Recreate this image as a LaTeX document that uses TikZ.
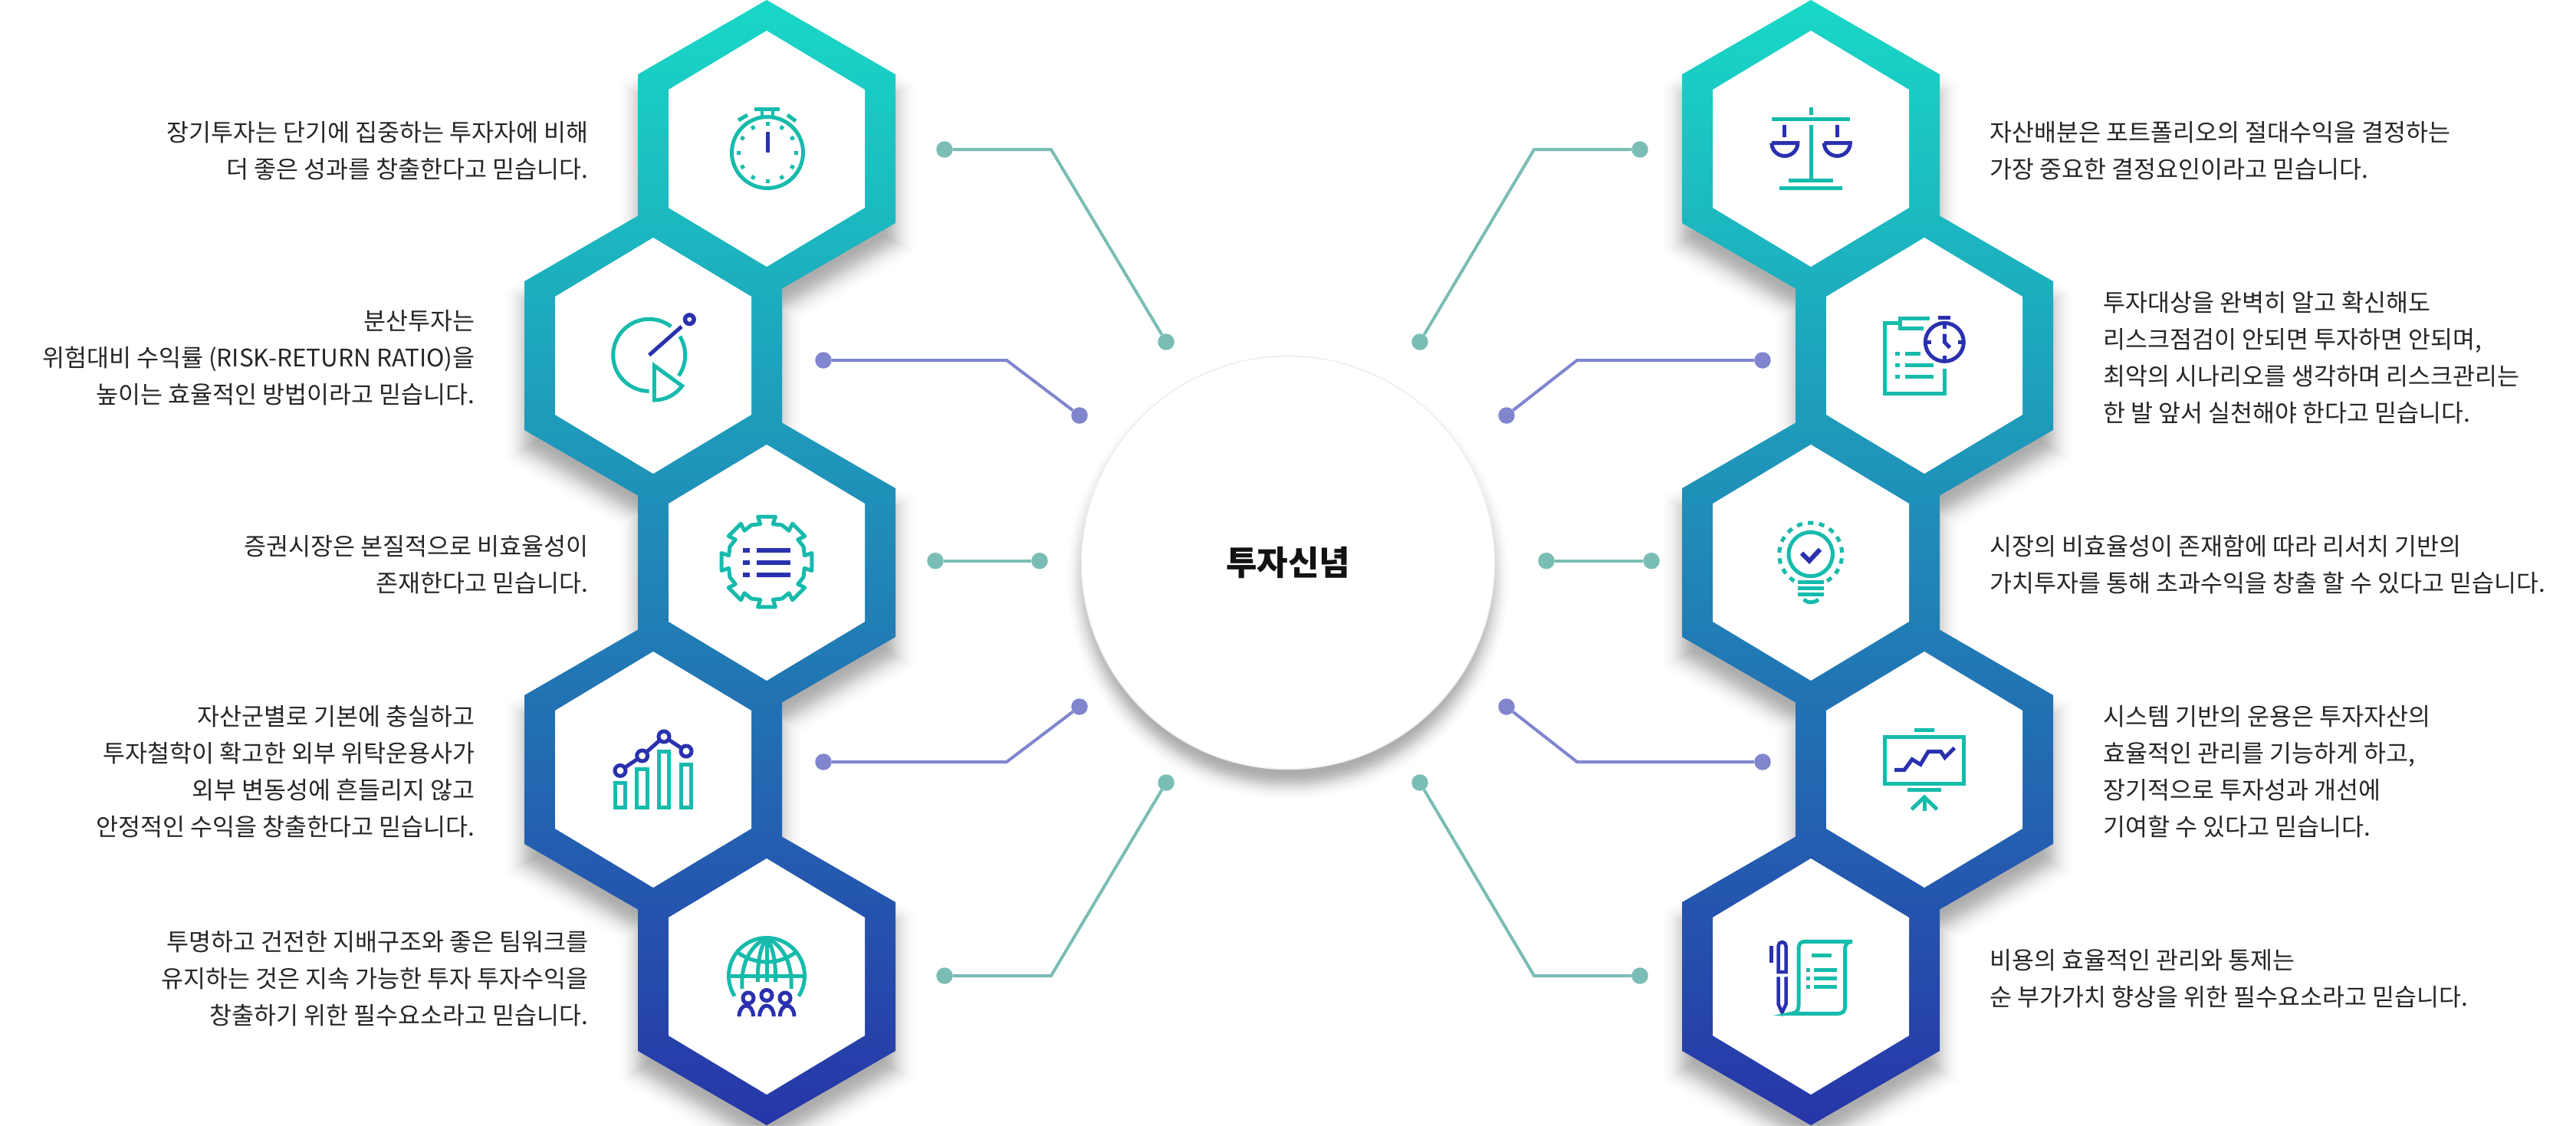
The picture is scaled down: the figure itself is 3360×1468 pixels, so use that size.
\documentclass[tikz,border=0pt]{standalone}
\usepackage{fontspec}
\setmainfont{Noto Sans CJK KR}
\definecolor{hextop}{HTML}{19D8C6}
\definecolor{hexbot}{HTML}{2735A8}
\definecolor{icongreen}{HTML}{16BBAC}
\definecolor{iconblue}{HTML}{2A31AE}
\definecolor{linegreen}{HTML}{7ABDB5}
\definecolor{lineblue}{HTML}{8085CE}
\definecolor{inktext}{HTML}{262626}
\newcommand{\hexo}[2]{(#1,#2-194)--(#1+168,#2-97)--(#1+168,#2+97)--(#1,#2+194)--(#1-168,#2+97)--(#1-168,#2-97)--cycle}
\newcommand{\hexi}[2]{(#1,#2-154)--(#1+128,#2-77)--(#1+128,#2+77)--(#1,#2+154)--(#1-128,#2+77)--(#1-128,#2-77)--cycle}
\newcommand{\hexs}[3]{(#1,#2-194-1.155*#3)--(#1+168+#3,#2-97-.577*#3)--(#1+168+#3,#2+97+.577*#3)--(#1,#2+194+1.155*#3)--(#1-168-#3,#2+97+.577*#3)--(#1-168-#3,#2-97-.577*#3)--cycle}
\tikzset{
  greendot/.style={circle,fill=linegreen,inner sep=0pt,minimum size=21.5pt},
  bluedot/.style={circle,fill=lineblue,inner sep=0pt,minimum size=21.5pt},
  greenline/.style={draw=linegreen,line width=4pt},
  blueline/.style={draw=lineblue,line width=4pt},
  tg/.style={draw=icongreen,line width=5pt},
  tb/.style={draw=iconblue,line width=5pt},
  lefttext/.style={anchor=east,align=right,inner sep=0pt,text=inktext,font=\fontsize{31.5}{48}\selectfont},
  righttext/.style={anchor=west,align=left,inner sep=0pt,text=inktext,font=\fontsize{31.5}{48}\selectfont},
}
\begin{document}
\begin{tikzpicture}[x=1pt,y=-1pt]
\useasboundingbox (0,0) rectangle (3360,1468);
\fill[white] (0,0) rectangle (3360,1468);

\foreach \d in {-28,-26,...,28} {
  \pgfmathsetmacro{\shadeop}{.024*(1-abs(\d)/30)}
  \fill[black,opacity=\shadeop] \hexs{1000}{219}{\d} \hexs{852}{489}{\d} \hexs{1000}{759}{\d} \hexs{852}{1029}{\d} \hexs{1000}{1299}{\d};
  \fill[black,opacity=\shadeop] \hexs{2362}{219}{\d} \hexs{2510}{489}{\d} \hexs{2362}{759}{\d} \hexs{2510}{1029}{\d} \hexs{2362}{1299}{\d};
  \fill[black,opacity=\shadeop] (1680,754) circle ({269.5+\d*.8});
}
\shade[top color=hextop,bottom color=hexbot] \hexo{1000}{194} \hexo{852}{464} \hexo{1000}{734} \hexo{852}{1004} \hexo{1000}{1274};
\shade[top color=hextop,bottom color=hexbot] \hexo{2362}{194} \hexo{2510}{464} \hexo{2362}{734} \hexo{2510}{1004} \hexo{2362}{1274};
\fill[white] \hexi{1000}{194} \hexi{852}{464} \hexi{1000}{734} \hexi{852}{1004} \hexi{1000}{1274};
\fill[white] \hexi{2362}{194} \hexi{2510}{464} \hexi{2362}{734} \hexi{2510}{1004} \hexi{2362}{1274};

\node[circle,fill=white,draw=black!7,line width=1.5pt,inner sep=0pt,minimum size=539pt,font=\fontsize{44}{50}\selectfont\bfseries,text=black!93] (center) at (1680,734) {투자신념};

\node[greendot] (la) at (1232,195) {};
\node[greendot] (laend) at (1521,446) {};
\node[bluedot] (lb) at (1074,470) {};
\node[bluedot] (lbend) at (1408,542) {};
\node[greendot] (lc) at (1220,731.7) {};
\node[greendot] (lcend) at (1356,731.7) {};
\node[bluedot] (ld) at (1074,994) {};
\node[bluedot] (ldend) at (1408,922) {};
\node[greendot] (le) at (1232,1273) {};
\node[greendot] (leend) at (1521,1021) {};
\node[greendot] (ra) at (2139,195) {};
\node[greendot] (raend) at (1852,446) {};
\node[bluedot] (rb) at (2299,470) {};
\node[bluedot] (rbend) at (1965,542) {};
\node[greendot] (rc) at (2154,731.7) {};
\node[greendot] (rcend) at (2017,731.7) {};
\node[bluedot] (rd) at (2299,994) {};
\node[bluedot] (rdend) at (1965,922) {};
\node[greendot] (re) at (2139,1273) {};
\node[greendot] (reend) at (1852,1021) {};
\coordinate (labend) at (1371,195);
\coordinate (lbbend) at (1313,470);
\coordinate (ldbend) at (1313,994);
\coordinate (lebend) at (1371,1273);
\coordinate (rabend) at (2001,195);
\coordinate (rbbend) at (2057,470);
\coordinate (rdbend) at (2057,994);
\coordinate (rebend) at (2001,1273);
\draw[greenline] (la) -- (labend) -- (laend);
\draw[blueline] (lb) -- (lbbend) -- (lbend);
\draw[greenline] (lc) -- (lcend);
\draw[blueline] (ld) -- (ldbend) -- (ldend);
\draw[greenline] (le) -- (lebend) -- (leend);
\draw[greenline] (ra) -- (rabend) -- (raend);
\draw[blueline] (rb) -- (rbbend) -- (rbend);
\draw[greenline] (rc) -- (rcend);
\draw[blueline] (rd) -- (rdbend) -- (rdend);
\draw[greenline] (re) -- (rebend) -- (reend);

\node[lefttext] (tla) at (767.5,197) {장기투자는 단기에 집중하는 투자자에 비해\\더 좋은 성과를 창출한다고 믿습니다.};
\node[lefttext] (tlb) at (619.5,467) {분산투자는\\위험대비 수익률 (RISK-RETURN RATIO)을\\높이는 효율적인 방법이라고 믿습니다.};
\node[lefttext] (tlc) at (767.5,737) {증권시장은 본질적으로 비효율성이\\존재한다고 믿습니다.};
\node[lefttext] (tld) at (619.5,1007) {자산군별로 기본에 충실하고\\투자철학이 확고한 외부 위탁운용사가\\외부 변동성에 흔들리지 않고\\안정적인 수익을 창출한다고 믿습니다.};
\node[lefttext] (tle) at (767.5,1277) {투명하고 건전한 지배구조와 좋은 팀워크를\\유지하는 것은 지속 가능한 투자 투자수익을\\창출하기 위한 필수요소라고 믿습니다.};
\node[righttext] (tra) at (2595,197) {자산배분은 포트폴리오의 절대수익을 결정하는\\가장 중요한 결정요인이라고 믿습니다.};
\node[righttext] (trb) at (2743,467) {투자대상을 완벽히 알고 확신해도\\리스크점검이 안되면 투자하면 안되며,\\최악의 시나리오를 생각하며 리스크관리는\\한 발 앞서 실천해야 한다고 믿습니다.};
\node[righttext] (trc) at (2595,737) {시장의 비효율성이 존재함에 따라 리서치 기반의\\가치투자를 통해 초과수익을 창출 할 수 있다고 믿습니다.};
\node[righttext] (trd) at (2743,1007) {시스템 기반의 운용은 투자자산의\\효율적인 관리를 기능하게 하고,\\장기적으로 투자성과 개선에\\기여할 수 있다고 믿습니다.};
\node[righttext] (tre) at (2595,1277) {비용의 효율적인 관리와 통제는\\순 부가가치 향상을 위한 필수요소라고 믿습니다.};

\draw[tg] (1001,199) circle (46.5);
\fill[icongreen] (984,140) rectangle (1017,145);
\draw[tg,line width=4.5pt] (994,145) -- (994,153);
\draw[tg,line width=4.5pt] (1008,145) -- (1008,153);
\draw[tg] (963,157) -- (975,150);
\draw[tg] (1027,150) -- (1038,158);
\foreach \a in {0,30,...,330}
  \fill[icongreen,shift={(1001,199)},rotate=\a] (35,-2.5) rectangle (40,2.5);
\draw[tb] (1001,172) -- (1001,199);

\draw[tg] (846.7,463.3) ++(52.6:47pt) arc[start angle=52.6,end angle=270,radius=47pt];
\draw[tg] (846.7,463.3) ++(31.5:47pt) arc[start angle=31.5,end angle=-35,radius=47pt];
\draw[tb] (846.7,463.3) -- (889,426);
\draw[tb,line width=5.5pt] (899.3,416.7) circle (5.8);
\draw[tg] (853.3,477) -- ++(-36:45pt) arc[start angle=-36,end angle=-90,radius=45pt] -- cycle;

\draw[tg,line join=round] ([shift={(1000,733)}]79:60pt) foreach \a in {90,135,...,405} {
  -- ([shift={(1000,733)}]\a+11:60pt) -- ([shift={(1000,733)}]\a+9.5:50pt) -- ([shift={(1000,733)}]\a+22.5:52pt) -- ([shift={(1000,733)}]\a+35.5:50pt) -- ([shift={(1000,733)}]\a+34:60pt)
} -- cycle;
\foreach \y in {718,733.7,750} {
  \draw[tb,line width=6pt] (969.3,\y) -- (978.3,\y);
  \draw[tb,line width=6pt] (987.3,\y) -- (1030.7,\y);
}

\foreach \x/\y in {800/1019.4,828.3/1001,857/978,885.7/995}
  \draw[tg] (\x+2.5,\y+2.5) rectangle (\x+15.8,1053.1);
\draw[tb] (809,1005.4) -- (837.7,986) -- (866,961) -- (895,980);
\foreach \x/\y in {809/1005.4,837.7/986,866/961,895/980}
  \draw[tb,fill=white] (\x,\y) circle (7);

\draw[tg] (1000,1273) ++(212.5:49.5pt) arc[start angle=212.5,end angle=-32.5,radius=49.5pt];
\draw[tg] (948,1273) -- (1052,1273);
\draw[tg] (1000,1224) -- (1000,1281);
\draw[tg] (963,1243) .. controls (985,1259) and (1015,1259) .. (1037,1243);
\draw[tg] (1000,1224) .. controls (991,1236) and (988,1258) .. (988.3,1281);
\draw[tg] (1000,1224) .. controls (1009,1236) and (1012,1258) .. (1011.7,1281);
\draw[tg] (1000,1224) .. controls (976,1234) and (966,1262) .. (968,1290);
\draw[tg] (1000,1224) .. controls (1024,1234) and (1034,1262) .. (1032,1290);
\foreach \x/\y in {976/1302,1000/1298.5,1024/1302}
  \draw[tb,fill=white] (\x,\y) circle (7);
\foreach \x in {964,990.7,1017.4}
  \draw[tb] (\x,1326) arc[start angle=180,end angle=0,x radius=9.3pt,y radius=14pt];

\draw[tg] (2310.7,155.7) -- (2413.3,155.7);
\draw[tg] (2362,140) -- (2362,150);
\draw[tg] (2362,162.5) -- (2362,233);
\draw[tg] (2333.3,235) -- (2390.7,235);
\draw[tg] (2320.7,245) -- (2403.3,245);
\foreach \x in {2327.8,2396.3} {
  \draw[tb] (\x,163) -- (\x,178.6);
  \draw[tb] (\x-17,186.5) -- (\x+17,186.5) arc[start angle=0,end angle=-180,radius=17pt];
}

\draw[tg] (2478.3,421.4) -- (2458.3,421.4) -- (2458.3,513.6) -- (2536.7,513.6) -- (2536.7,481);
\draw[tg] (2516.7,415.4) -- (2478.3,415.4) -- (2478.3,428.6) -- (2509.3,428.6);
\foreach \y/\e in {461.4/2505,476.4/2522,491.4/2522} {
  \draw[tg] (2471.7,\y) -- (2477.7,\y);
  \draw[tg] (2484.7,\y) -- (\e,\y);
}
\draw[tb] (2536.3,446.4) circle (25);
\draw[tb] (2528.3,414) -- (2544.3,414);
\draw[tb] (2536.3,420) -- (2536.3,429);
\draw[tb] (2536.3,464) -- (2536.3,473);
\draw[tb] (2512,446.4) -- (2519,446.4);
\draw[tb] (2554,446.4) -- (2561,446.4);
\draw[tb] (2536.3,435.7) -- (2536.3,446.4) -- (2543.3,453.6);

\draw[tg] (2361.7,723) circle (28.7);
\foreach \a in {-7,...,7}
  \draw[tg] (2361.7,723) ++({90+20.5*\a-5}:41pt) arc[start angle={90+20.5*\a-5},end angle={90+20.5*\a+5},radius=41pt];
\draw[tb,line width=6pt] (2350,721.7) -- (2360,731.7) -- (2374,716.7);
\foreach \y in {759,767,775.3}
  \draw[tg] (2344.7,\y) -- (2379.3,\y);
\draw[tg] (2352.7,782) .. controls (2357,787) and (2367,787) .. (2371.7,782);

\draw[tg] (2458.5,961.5) rectangle (2561.5,1022.2);
\draw[tg] (2497,952.3) -- (2523.3,952.3);
\draw[tg] (2488,1030.7) -- (2532,1030.7);
\draw[tg] (2510,1040) -- (2510,1058);
\draw[tg] (2493.3,1056) -- (2510,1040) -- (2526.7,1056);
\draw[tb] (2471,1004.3) -- (2484,1004.3) -- (2494,990.7) -- (2505,997.3) -- (2515,980.7) -- (2531.7,980.7) -- (2536.7,988.3) -- (2549.3,975.7);

\draw[tb,line width=4.5pt] (2310.5,1234) -- (2310.5,1256);
\draw[tb,line width=4.5pt] (2319.5,1268) -- (2319.5,1234) arc[start angle=180,end angle=0,radius=5pt] -- (2329.5,1268) -- cycle;
\draw[tb,line width=4.5pt] (2319.5,1274.3) -- (2319.5,1310) -- (2324.5,1321) -- (2329.5,1310) -- (2329.5,1274.3);
\draw[tg] (2416,1228.3) -- (2355,1228.3) .. controls (2348,1228.3) and (2346,1232) .. (2346,1238) -- (2346,1312) .. controls (2346,1318) and (2343,1322) .. (2336.7,1322.3) -- (2398,1322.3) .. controls (2403,1322.3) and (2406.5,1319) .. (2406.5,1314) -- (2406.5,1238) .. controls (2406.5,1232) and (2410,1228.3) .. (2416,1228.3);
\draw[tg] (2363,1246) -- (2389,1246);
\foreach \y in {1265,1276,1287} {
  \draw[tg] (2355.7,\y) -- (2361,\y);
  \draw[tg] (2366,\y) -- (2396.3,\y);
}
\end{tikzpicture}
\end{document}
